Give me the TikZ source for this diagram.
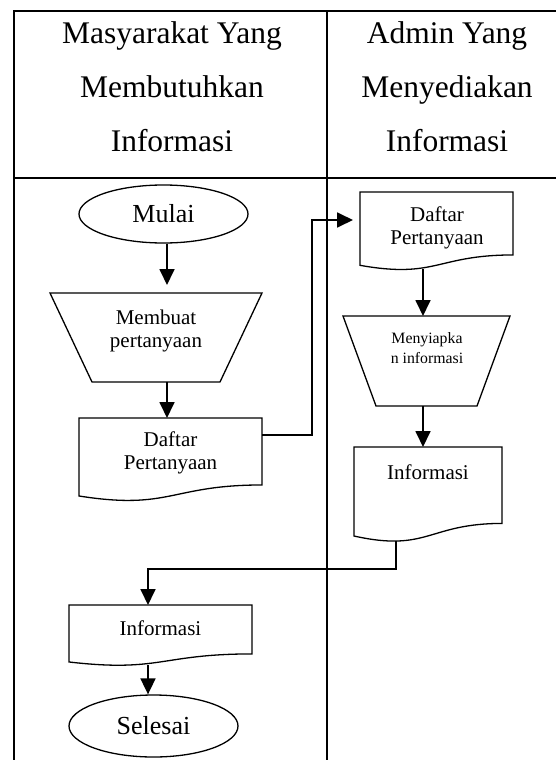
\documentclass[tikz,border=0pt]{standalone}
\usepackage{fontspec}
\setmainfont{Liberation Serif}
\usetikzlibrary{arrows.meta,calc,shapes.geometric}

\newcommand\docoutline[1]{%
  \draw[shapeline] (#1.north west) -- (#1.north east)
    -- ($(#1.north east)!0.802!(#1.south east)$)
    .. controls ($(#1.north)!0.802!(#1.south)$) and ($(#1.north)!1.107!(#1.south)$)
    .. ($(#1.north west)!0.934!(#1.south west)$) -- cycle;}
\newcommand\trapoutline[2]{%
  \draw[shapeline] (#1.north west) -- (#1.north east)
    -- ([xshift=-#2]#1.south east) -- ([xshift=#2]#1.south west) -- cycle;}

\begin{document}
\begin{tikzpicture}[x=1pt,y=-1pt,
  lane/.style={line width=1.7pt},
  shapeline/.style={line width=1.3pt,line join=miter},
  flow/.style={line width=1.8pt,-{Triangle[length=16pt,width=15pt]}},
  ghost/.style={draw=none,inner sep=0pt,outer sep=0pt},
  head/.style={font=\fontsize{31.5}{54}\selectfont,align=center,inner sep=0pt},
  txt/.style={font=\fontsize{21}{23.5}\selectfont,align=center,inner sep=0pt},
  term/.style={ellipse,draw,line width=1.3pt,inner sep=0pt,font=\fontsize{26}{30}\selectfont},
  small/.style={font=\fontsize{15.8}{20}\selectfont,align=center,inner sep=0pt}
]
\useasboundingbox (0,0) rectangle (556,760);

% swimlane frame
\draw[lane] (14,760) -- (14,11) -- (556,11);
\draw[lane] (14,178) -- (556,178);
\draw[lane] (327,11) -- (327,760);

\node[head] (h1) at (172,87) {Masyarakat Yang\\Membutuhkan\\Informasi};
\node[head] (h2) at (447,87) {Admin Yang\\Menyediakan\\Informasi};

% axes
\coordinate (axL) at (167,0);
\coordinate (axR) at (423,0);
\coordinate (outx) at (396,0);

% left lane
\node[term,minimum width=169pt,minimum height=58pt] (mulai) at (163.5,214) {Mulai};

\node[ghost,minimum width=212pt,minimum height=89pt] (trap1) at (156,337.5) {};
\trapoutline{trap1}{42pt}
\node[txt] (trap1t) at (156,331) {Membuat\\pertanyaan};

\node[ghost,minimum width=183pt,minimum height=83.5pt] (d1) at (170.5,459.75) {};
\docoutline{d1}
\node[txt] (d1t) at (170.5,453) {Daftar\\Pertanyaan};

\node[ghost,minimum width=183pt,minimum height=61pt] (d4) at (160.5,635.5) {};
\docoutline{d4}
\node[txt] (d4t) at (160.5,628) {Informasi};

\node[term,minimum width=169pt,minimum height=62pt] (selesai) at (153.5,726) {Selesai};

% right lane
\node[ghost,minimum width=153pt,minimum height=78.5pt] (d2) at (436.5,231.25) {};
\docoutline{d2}
\node[txt] (d2t) at (437,228) {Daftar\\Pertanyaan};

\node[ghost,minimum width=167pt,minimum height=90pt] (trap2) at (426.5,361) {};
\trapoutline{trap2}{33pt}
\node[small] (trap2t) at (427,348) {Menyiapka\\n informasi};

\node[ghost,minimum width=148pt,minimum height=95.3pt] (d3) at (428,494.65) {};
\docoutline{d3}
\node[txt] (d3t) at (428,472) {Informasi};

% connectors
\coordinate (d1e) at ($(d1.north east)+(0,17)$);
\coordinate (jog1) at (312,220);
\coordinate (d2w) at ($(d2.north west)+(0,28)$);
\coordinate (jog2) at (148,569);

\draw[flow,shorten >=8pt] (mulai.south -| axL) -- (trap1.north -| axL);
\draw[flow] (trap1.south -| axL) -- (d1.north -| axL);
\draw[flow,shorten >=7pt] (d1e) -| (jog1) -- (d2w);
\draw[flow] ($(d2.south -| axR)+(0,-2)$) -- (trap2.north -| axR);
\draw[flow] (trap2.south -| axR) -- (d3.north -| axR);
\draw[flow] ($(d3.south -| outx)+(0,-1)$) |- (jog2) -- (d4.north -| jog2);
\draw[flow] ($(d4.south -| jog2)+(0,-1)$) -- (selesai.north -| jog2);
\end{tikzpicture}
\end{document}
